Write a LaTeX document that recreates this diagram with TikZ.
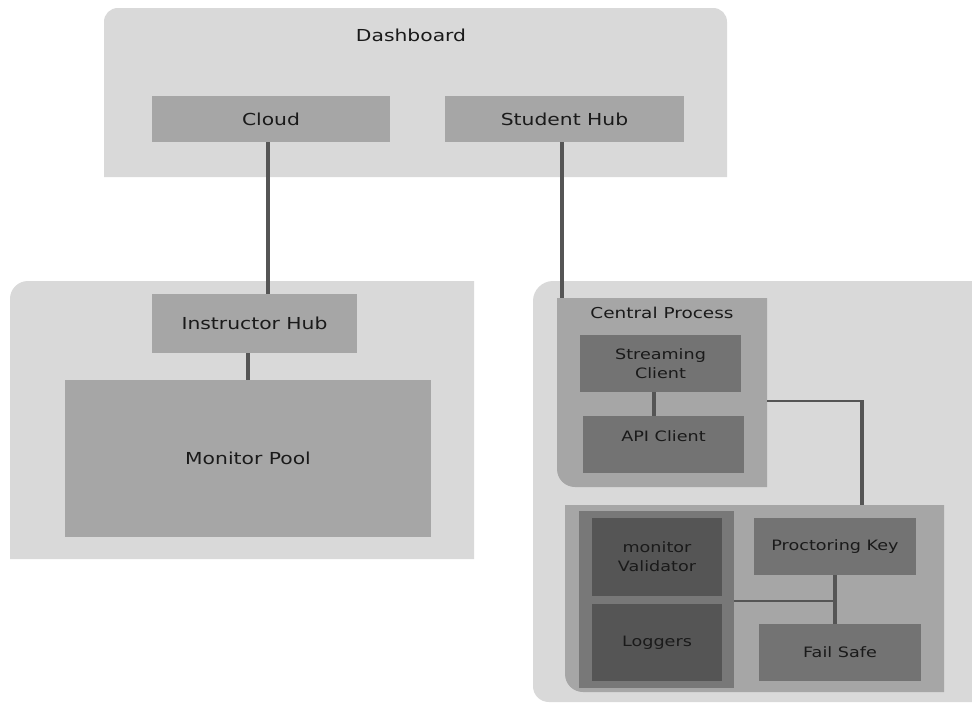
\documentclass[tikz,border=0pt]{standalone}
\usepackage{fontspec}
\setmainfont[FakeStretch=1.23]{DejaVu Sans}
\begin{document}
\begin{tikzpicture}[x=1pt,y=-1pt,
  boxA/.style={rectangle,fill=midc,inner sep=0pt,font=\fontsize{16.5}{19}\selectfont,text=txtc},
  boxB/.style={rectangle,fill=darkc,inner sep=0pt,align=center,font=\fontsize{14.3}{19}\selectfont,text=txtc},
  boxC/.style={rectangle,fill=darkestc,inner sep=0pt,align=center,font=\fontsize{14.3}{19}\selectfont,text=txtc},
  lbl/.style={inner sep=0pt,text=txtc},
  vwire/.style={draw=wirec,line width=3.4pt},
  hwire/.style={draw=wirec,line width=2.2pt}]
\definecolor{lightc}{HTML}{D9D9D9}
\definecolor{midc}{HTML}{A6A6A6}
\definecolor{darkc}{HTML}{737373}
\definecolor{groupc}{HTML}{787878}
\definecolor{darkestc}{HTML}{555555}
\definecolor{wirec}{HTML}{555555}
\definecolor{txtc}{HTML}{1A1A1A}
\useasboundingbox (0,0) rectangle (972,702);
\fill[white] (0,0) rectangle (972,702);
% Dashboard container
\fill[lightc] (104,177) -- (104,22) .. controls (104,14) and (110,8) .. (118,8)
  -- (713,8) .. controls (721,8) and (727,14) .. (727,22) -- (727,177) -- cycle;
% Left container
\fill[lightc] (10,559) -- (10,299) .. controls (10,289) and (18,281) .. (28,281)
  -- (474,281) -- (474,559) -- cycle;
% Right container
\fill[lightc] (972,281) -- (553,281) .. controls (542,281) and (533,290) .. (533,301)
  -- (533,686) .. controls (533,695) and (540,702) .. (549,702) -- (972,702) -- cycle;
% Central Process container
\fill[midc] (557,298) -- (767,298) -- (767,487) -- (575,487)
  .. controls (565,487) and (557,479) .. (557,469) -- cycle;
% bottom group
\fill[midc] (565,505) -- (944,505) -- (944,692) -- (583,692)
  .. controls (573,692) and (565,684) .. (565,674) -- cycle;
\fill[groupc] (579,511) rectangle (734,688);

\coordinate (cptop) at (562,298);
\coordinate (cpright) at (767,401);
\coordinate (grptop) at (862,505);
\coordinate (grpleft) at (734,601);
\coordinate (corner) at (862,401);

\node[lbl,font=\fontsize{16.5}{19}\selectfont] (dash) at (411,35) {Dashboard};
\node[lbl,font=\fontsize{15}{18}\selectfont] (cplabel) at (662,313) {Central Process};

\node[boxA,minimum width=238,minimum height=46] (cloud) at (271,119) {Cloud};
\node[boxA,minimum width=239,minimum height=46] (student) at (564.5,119) {Student Hub};
\node[boxA,minimum width=205,minimum height=59] (instr) at (254.5,323.5) {Instructor Hub};
\node[boxA,minimum width=366,minimum height=157] (pool) at (248,458.5) {Monitor Pool};

\node[boxB,minimum width=161,minimum height=57] (stream) at (660.5,363.5) {Streaming\\Client};
\node[boxB,minimum width=161,minimum height=57,text height=11pt,text depth=18pt,inner ysep=14pt] (api) at (663.5,444.5) {API Client};

\node[boxC,minimum width=130,minimum height=78] (valid) at (657,557) {monitor\\Validator};
\node[boxC,minimum width=130,minimum height=77] (logg) at (657,642.5) {Loggers};
\node[boxB,minimum width=162,minimum height=57] (proc) at (835,546.5) {Proctoring Key};
\node[boxB,minimum width=162,minimum height=57] (fail) at (840,652.5) {Fail Safe};

% connectors
\draw[vwire] (cloud.south -| 268,0) -- (instr.north -| 268,0);
\draw[vwire] (student.south -| 562,0) -- (cptop);
\draw[vwire] (instr.south -| 248,0) -- (pool.north -| 248,0);
\draw[vwire] (stream.south -| 654,0) -- (api.north -| 654,0);
\draw[hwire] (cpright) -- ([xshift=1.7pt]corner);
\draw[vwire] ([yshift=-1.1pt]corner) -- (grptop);
\draw[vwire] (proc.south) -- (fail.north -| proc.south);
\draw[hwire] (grpleft) -- (grpleft -| proc.south);
\end{tikzpicture}
\end{document}
